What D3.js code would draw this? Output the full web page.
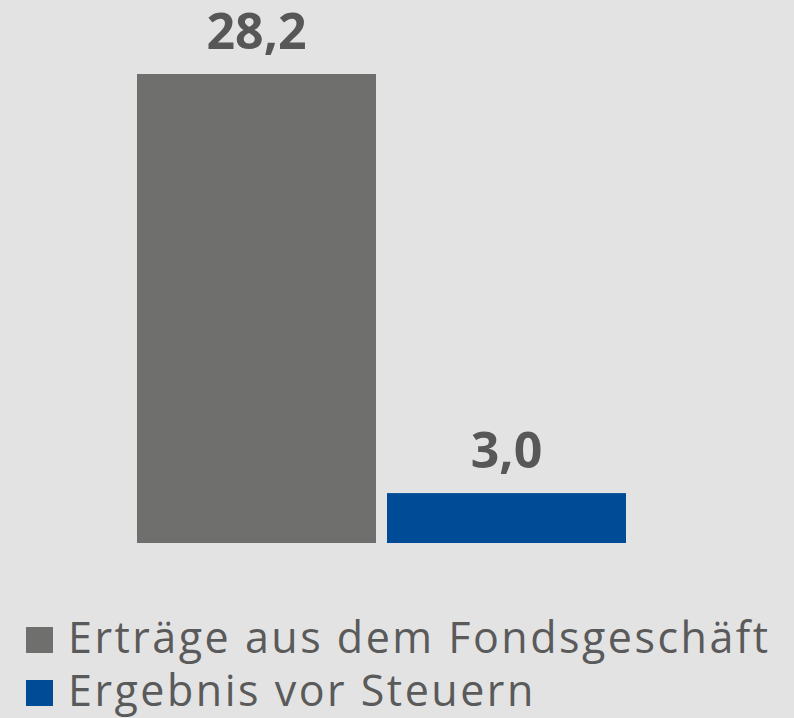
<!DOCTYPE html>
<html>
<head>
<meta charset="utf-8">
<script src="https://cdn.jsdelivr.net/npm/d3@7"></script>
<style>
  html, body { margin: 0; padding: 0; background: #e3e3e3; }
  svg { display: block; }
</style>
</head>
<body>
<div id="chart"></div>
<script>
var width = 794, height = 718;

var categories = ["Erträge aus dem Fondsgeschäft", "Ergebnis vor Steuern"];
var values = [28.2, 3.0];
var valueLabels = ["28,2", "3,0"];
var colors = ["#6f6f6e", "#004b96"];

var font = "'Open Sans', 'Noto Sans', sans-serif";

var svg = d3.select("#chart").append("svg")
  .attr("width", width)
  .attr("height", height);

svg.append("rect")
  .attr("width", width).attr("height", height)
  .attr("fill", "#e3e3e3");

var x = d3.scaleBand()
  .domain(categories)
  .range([137, 626])
  .paddingInner(0.044)
  .paddingOuter(0);

var y = d3.scaleLinear()
  .domain([0, 28.2])
  .range([543, 74]);

var data = categories.map(function (c, i) {
  return { cat: c, value: values[i], label: valueLabels[i], color: colors[i] };
});

// bars
svg.append("g")
  .selectAll("rect")
  .data(data)
  .enter()
  .append("rect")
    .attr("x", function (d) { return x(d.cat); })
    .attr("y", function (d) { return y(d.value); })
    .attr("width", x.bandwidth())
    .attr("height", function (d) { return y(0) - y(d.value); })
    .attr("fill", function (d) { return d.color; });

// value labels
svg.append("g")
  .selectAll("text")
  .data(data)
  .enter()
  .append("text")
    .attr("x", function (d) { return x(d.cat) + x.bandwidth() / 2; })
    .attr("y", function (d) { return y(d.value) - 25; })
    .attr("text-anchor", "middle")
    .style("font-family", font)
    .style("font-weight", "bold")
    .style("font-size", "50px")
    .attr("fill", "#575757")
    .text(function (d) { return d.label; });

// legend
var legend = svg.append("g")
  .selectAll("g")
  .data(data)
  .enter()
  .append("g")
    .attr("transform", function (d, i) { return "translate(26," + (627 + i * 53) + ")"; });

legend.append("rect")
  .attr("width", 27).attr("height", 26)
  .attr("fill", function (d) { return d.color; });

legend.append("text")
  .attr("x", 42)
  .attr("y", 26)
  .style("font-family", font)
  .style("font-size", "43px")
  .style("letter-spacing", "2.5px")
  .attr("fill", "#5a5a5a")
  .text(function (d) { return d.cat; });
</script>
</body>
</html>
